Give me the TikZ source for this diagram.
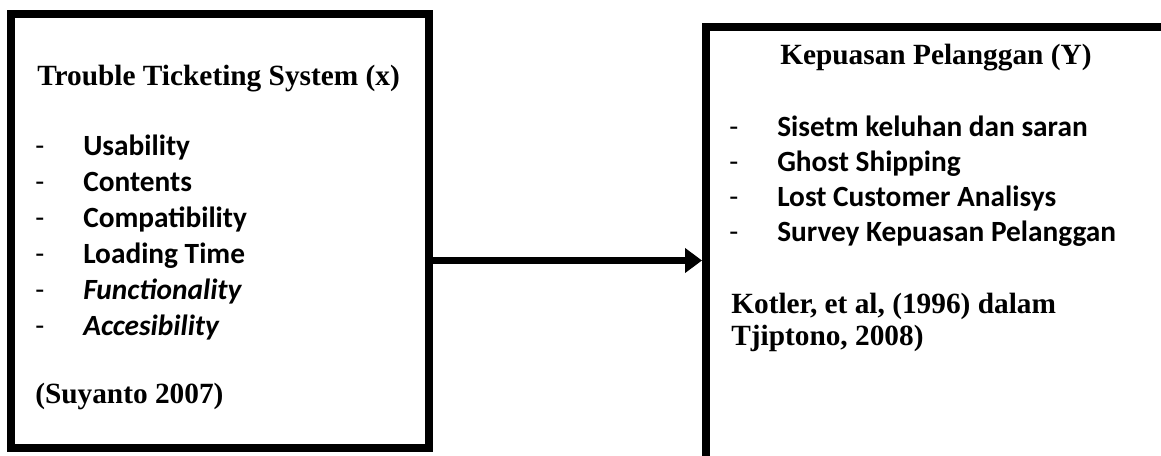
\documentclass[tikz,border=0pt]{standalone}
\usepackage{fontspec}
\setmainfont{Liberation Serif}
\newfontfamily\calibri{Carlito}
\usetikzlibrary{arrows.meta}

\tikzset{
    varbox/.style={draw, line width=6pt, inner sep=0pt},
    head/.style={font=\bfseries\fontsize{22}{26}\selectfont, anchor=base west, inner sep=0pt},
    item/.style={font=\calibri\bfseries\fontsize{22}{26}\selectfont, anchor=base west, inner sep=0pt},
    hyph/.style={font=\calibri\fontsize{22}{26}\selectfont, anchor=base west, inner sep=0pt},
    flow/.style={line width=5.25pt, -{Triangle[length=12.75pt,width=18pt]}}
}

\begin{document}
\begin{tikzpicture}[x=0.75pt,y=-0.75pt]
    \clip (0,0) rectangle (1161,456);
    % boxes
    \node[varbox, minimum width=313.5pt, minimum height=325.5pt] at (220,231) (xbox) {};
    \node[varbox, minimum width=351.75pt, minimum height=332pt] at (940.5,248.75) (ybox) {};

    % variable x
    \node[head] at (37,86) (xtitle) {Trouble Ticketing System (x)};
    \foreach \txt [count=\i from 0] in {Usability, Contents, Compatibility, Loading Time, \textit{Functionality}, \textit{Accesibility}} {
        \node[hyph] at (35,{156+35.8*\i}) (xd\i) {-};
        \node[item] at (83,{156+35.8*\i}) (xi\i) {\txt};
    }
    \node[head] at (35,403) (xsrc) {(Suyanto 2007)};

    % variable y
    \node[head] at (780,65) (ytitle) {Kepuasan Pelanggan (Y)};
    \foreach \txt [count=\i from 0] in {Sisetm keluhan dan saran, Ghost Shipping, Lost Customer Analisys, Survey Kepuasan Pelanggan} {
        \node[hyph] at (729,{137+35*\i}) (yd\i) {-};
        \node[item] at (777,{137+35*\i}) (yi\i) {\txt};
    }
    \node[head] at (731,313) (ysrc1) {Kotler, et al, (1996) dalam};
    \node[head] at (731,345) (ysrc2) {Tjiptono, 2008)};

    \coordinate (lvl) at (0,260.5);
    \draw[flow] (xbox.east |- lvl) -- (ybox.west |- lvl);
\end{tikzpicture}
\end{document}
